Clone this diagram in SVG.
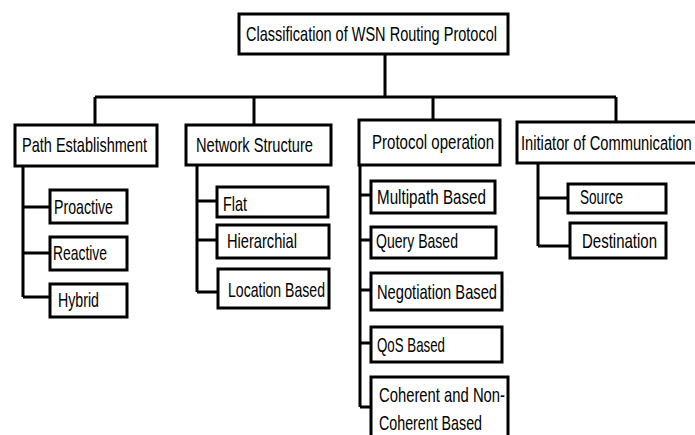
<svg xmlns="http://www.w3.org/2000/svg" width="695" height="435" viewBox="0 0 695 435">
<style>
.box{fill:#fff;stroke:#000;stroke-width:3}
.ln{fill:none;stroke:#000;stroke-width:3}
text{font-family:"Liberation Sans Narrow","Liberation Sans",Arial,sans-serif;font-size:21px;fill:#000}
</style>
<rect width="695" height="435" fill="#fff"/>
<g id="connectors" class="ln">
<path d="M385 54V97M95 97H616M95 97V125M254 97V125M433 97V120M616 97V122"/>
<path d="M23 166V297M23 207H50M23 253H50M23 297H50"/>
<path d="M197 165V292M197 201H217M197 240H217M197 292H218"/>
<path d="M360 165V407M360 195H371M360 240H371M360 290H371M360 343H371M360 407H371"/>
<path d="M538 163V246M538 198H568M538 246H570"/>
</g>
<g id="root"><rect class="box" x="239" y="14" width="269" height="40"/><text x="246" y="41" textLength="251" lengthAdjust="spacingAndGlyphs">Classification of WSN Routing Protocol</text></g>
<g id="path-establishment"><rect class="box" x="15" y="125" width="142" height="41"/><text x="22" y="152" textLength="125" lengthAdjust="spacingAndGlyphs">Path Establishment</text></g>
<g id="network-structure"><rect class="box" x="186" y="125" width="145" height="40"/><text x="196" y="152" textLength="117" lengthAdjust="spacingAndGlyphs">Network Structure</text></g>
<g id="protocol-operation"><rect class="box" x="359" y="120" width="141" height="45"/><text x="372" y="149" textLength="122" lengthAdjust="spacingAndGlyphs">Protocol operation</text></g>
<g id="initiator"><rect class="box" x="517" y="122" width="200" height="41"/><text transform="translate(521 150) scale(0.7 1)" x="0" y="0" textLength="244" lengthAdjust="spacingAndGlyphs">Initiator of Communication</text></g>
<g id="proactive"><rect class="box" x="50" y="190" width="77" height="33"/><text x="54" y="214" textLength="59" lengthAdjust="spacingAndGlyphs">Proactive</text></g>
<g id="reactive"><rect class="box" x="50" y="237" width="77" height="33"/><text x="53" y="260" textLength="54" lengthAdjust="spacingAndGlyphs">Reactive</text></g>
<g id="hybrid"><rect class="box" x="50" y="284" width="77" height="33"/><text x="58" y="307" textLength="41" lengthAdjust="spacingAndGlyphs">Hybrid</text></g>
<g id="flat"><rect class="box" x="217" y="187" width="111" height="30"/><text x="223" y="211" textLength="24" lengthAdjust="spacingAndGlyphs">Flat</text></g>
<g id="hierarchial"><rect class="box" x="217" y="225" width="112" height="33"/><text x="227" y="248" textLength="70" lengthAdjust="spacingAndGlyphs">Hierarchial</text></g>
<g id="location-based"><rect class="box" x="218" y="269" width="111" height="39"/><text x="228" y="297" textLength="97" lengthAdjust="spacingAndGlyphs">Location Based</text></g>
<g id="multipath-based"><rect class="box" x="371" y="181" width="124" height="32"/><text x="377" y="204" textLength="109" lengthAdjust="spacingAndGlyphs">Multipath Based</text></g>
<g id="query-based"><rect class="box" x="371" y="227" width="125" height="31"/><text x="376" y="248" textLength="82" lengthAdjust="spacingAndGlyphs">Query Based</text></g>
<g id="negotiation-based"><rect class="box" x="371" y="273" width="131" height="37"/><text x="377" y="299" textLength="120" lengthAdjust="spacingAndGlyphs">Negotiation Based</text></g>
<g id="qos-based"><rect class="box" x="371" y="327" width="131" height="35"/><text x="377" y="352" textLength="68" lengthAdjust="spacingAndGlyphs">QoS Based</text></g>
<g id="coherent"><rect class="box" x="371" y="377" width="137" height="65"/><text x="379" y="402" textLength="126" lengthAdjust="spacingAndGlyphs">Coherent and Non-</text><text x="379" y="430" textLength="103" lengthAdjust="spacingAndGlyphs">Coherent Based</text></g>
<g id="source"><rect class="box" x="568" y="184" width="98" height="29"/><text x="580" y="204" textLength="43" lengthAdjust="spacingAndGlyphs">Source</text></g>
<g id="destination"><rect class="box" x="570" y="223" width="96" height="35"/><text x="582" y="248" textLength="75" lengthAdjust="spacingAndGlyphs">Destination</text></g>
</svg>
